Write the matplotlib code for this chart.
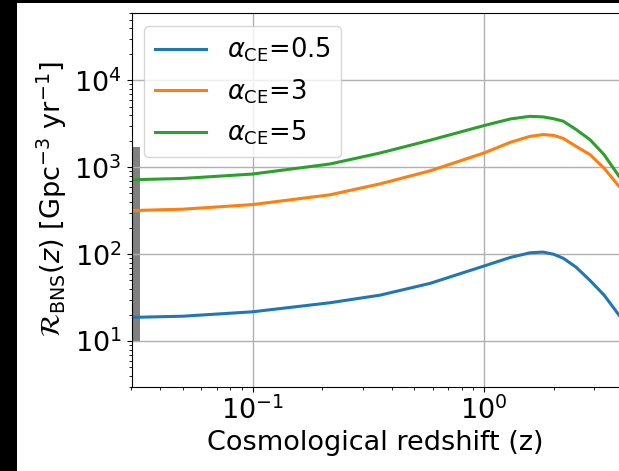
import numpy as np
import matplotlib
matplotlib.use("Agg")
import matplotlib.pyplot as plt
from matplotlib.patches import Rectangle

plt.rcParams.update({"font.size": 19.5})

# redshift grid and merger rate densities [Gpc^-3 yr^-1]
z = [0.03, 0.05, 0.1, 0.216, 0.356, 0.585, 1.0, 1.3, 1.58, 1.8, 2.0, 2.2, 2.5, 2.87, 3.3, 3.83]
rate_a05 = [18.8, 19.4, 21.8, 27.7, 33.9, 46.3, 73.3, 92, 104, 106, 100, 90, 71, 50, 34, 20]
rate_a3 = [318, 330, 373, 483, 646, 912, 1462, 1940, 2270, 2380, 2330, 2150, 1740, 1400, 980, 605]
rate_a5 = [719, 745, 837, 1092, 1462, 2050, 3020, 3600, 3860, 3800, 3620, 3390, 2720, 2080, 1400, 790]
labels = [r"$\alpha_{\rm CE}$=0.5", r"$\alpha_{\rm CE}$=3", r"$\alpha_{\rm CE}$=5"]

# local rate range (LVK)
local_lo, local_hi = 10, 1700

fig = plt.figure(figsize=(6.19, 4.71), dpi=100)
fig.patch.set_facecolor("black")
fig.patches.append(Rectangle((17 / 619, 0), 1, 1 - 3 / 471, transform=fig.transFigure,
                             facecolor="white", edgecolor="none", zorder=-10))

ax = fig.add_axes([131.5 / 619, 1 - 386.7 / 471, (619 - 131.5) / 619, (386.7 - 12.7) / 471])

for rate, lab in zip([rate_a05, rate_a3, rate_a5], labels):
    ax.plot(z, rate, lw=2.2, label=lab)

ax.fill_between([0.03, 0.0326], local_lo, local_hi, color="grey", lw=0)

ax.set_xscale("log")
ax.set_yscale("log")
ax.set_xlim(0.03, 3.83)
ax.set_ylim(3, 6e4)
ax.spines["right"].set_visible(False)
ax.grid(True, lw=1)
ax.set_xlabel("Cosmological redshift (z)")
ax.set_ylabel(r"$\mathcal{R}_{\rm BNS}(z)$ [Gpc$^{-3}$ yr$^{-1}$]")
ax.legend(loc="upper left", fontsize=18.5)

fig.savefig("out.png", dpi=100, facecolor=fig.get_facecolor())
